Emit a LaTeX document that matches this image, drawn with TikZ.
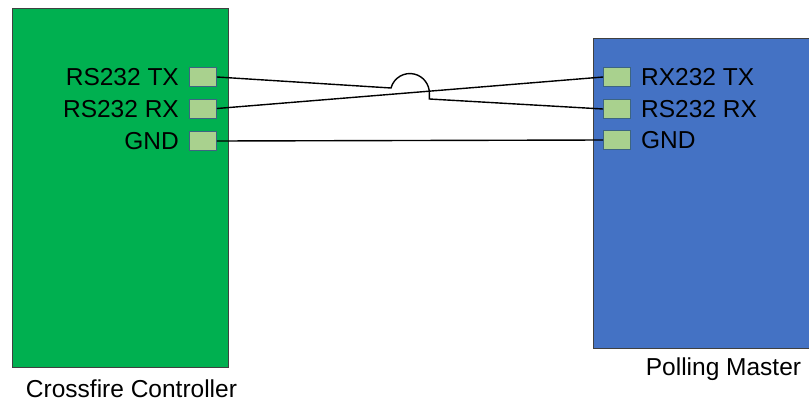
\documentclass[tikz,border=0pt]{standalone}
\usepackage{fontspec}
\setmainfont{Liberation Sans}
\usetikzlibrary{positioning}
\definecolor{boardgreen}{RGB}{0,176,80}
\definecolor{masterblue}{RGB}{68,114,196}
\definecolor{portfill}{RGB}{169,209,142}
\definecolor{portedge}{RGB}{60,100,130}

\tikzset{
  board/.style={draw=black!75,line width=0.8pt,anchor=north west,inner sep=0pt},
  portbox/.style={draw=portedge,fill=portfill,line width=0.9pt,minimum width=27pt,minimum height=19pt,inner sep=0pt},
  lbl/.style={inner sep=0pt,text height=17.5pt,text depth=0pt,font=\fontsize{24.5}{28}\selectfont},
  wire/.style={black,line width=1.4pt}
}

\begin{document}
\begin{tikzpicture}[x=1pt,y=-1pt]
  \useasboundingbox (0,0) rectangle (809,402);
  % boards
  \node[board,fill=boardgreen,minimum width=216pt,minimum height=359pt] (ctrl) at (12,8) {};
  \node[board,fill=masterblue,minimum width=220pt,minimum height=310pt] (master) at (593,37.5) {};

  % controller side
  \node[portbox] (ctx) at (203,77) {};
  \node[portbox] (crx) at (203,108.5) {};
  \node[portbox] (cgnd) at (203,141) {};
  \node[lbl,anchor=east,left=10pt of ctx] (ctxlbl) {RS232 TX};
  \node[lbl,anchor=east,left=10pt of crx] (crxlbl) {RS232 RX};
  \node[lbl,anchor=east,left=10pt of cgnd] (cgndlbl) {GND};

  % master side
  \node[portbox] (mtx) at (617,77) {};
  \node[portbox] (mrx) at (617,109) {};
  \node[portbox] (mgnd) at (617,140) {};
  \node[lbl,anchor=west,right=10pt of mtx] (mtxlbl) {RX232 TX};
  \node[lbl,anchor=west,right=10pt of mrx] (mrxlbl) {RS232 RX};
  \node[lbl,anchor=west,right=10pt of mgnd] (mgndlbl) {GND};

  % wiring
  \coordinate (hop) at (391,88);
  \coordinate (drop) at (429.5,99);
  \draw[wire] (crx.east) -- (mtx.west);
  \draw[wire] (ctx.east) -- (hop) arc[start angle=195,end angle=360,radius=19.5] |- (drop) -- (mrx.west);
  \draw[wire] (cgnd.east) -- (mgnd.west);

  % captions
  \node[lbl] (ctrlname) at (131.5,389) {Crossfire Controller};
  \node[lbl] (mastername) at (723.5,367) {Polling Master};
\end{tikzpicture}
\end{document}
